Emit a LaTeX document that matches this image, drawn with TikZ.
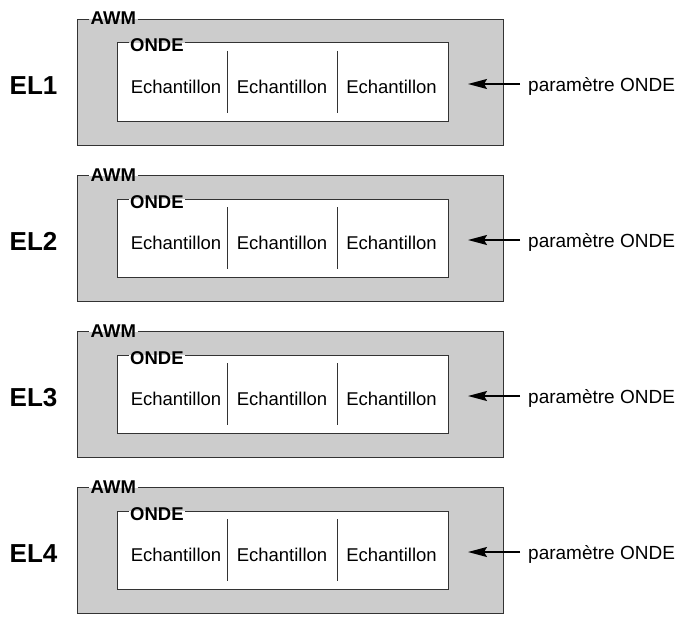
\documentclass[tikz,border=0pt]{standalone}
\usepackage{fontspec}
\setmainfont{Liberation Sans}
\usetikzlibrary{arrows.meta}
\definecolor{boxgray}{HTML}{CCCCCC}
\definecolor{edgecol}{HTML}{333333}
\begin{document}
\begin{tikzpicture}[x=1pt,y=-1pt,
  edgeline/.style={draw=edgecol,line width=1pt},
  divline/.style={draw=edgecol,line width=0.8pt},
  lbl/.style={inner sep=1.5pt,font=\fontsize{18.5}{22}\selectfont\bfseries},
  cell/.style={inner sep=0pt,font=\fontsize{18.5}{22}\selectfont},
  elname/.style={inner sep=0pt,font=\fontsize{26}{30}\selectfont\bfseries},
  param/.style={inner sep=0pt,font=\fontsize{19}{23}\selectfont},
  parrow/.style={line width=1.6pt,-{Stealth[length=19pt,width=10pt,inset=3pt]}}]
\useasboundingbox (0,0) rectangle (687,618);
\foreach \i/\t in {1/19.5,2/175.5,3/331.5,4/487.5}{
  % outer AWM box
  \fill[boxgray] (77,\t) rectangle (503,{\t+126});
  \coordinate (oc\i) at (77,\t);
  \node[lbl,anchor=base west] (awm\i) at (89,{\t+5.5}) {AWM};
  \draw[edgeline] (awm\i.east |- oc\i) -- (503,\t) -- (503,{\t+126}) -- (77,{\t+126}) -- (oc\i) -- (awm\i.west |- oc\i);
  % inner ONDE box
  \fill[white] (117,{\t+23.5}) rectangle (448,{\t+101.5});
  \coordinate (ic\i) at (117,{\t+23.5});
  \node[lbl,anchor=base west] (onde\i) at (128.5,{\t+32.5}) {ONDE};
  \draw[edgeline] (onde\i.east |- ic\i) -- (448,{\t+23.5}) -- (448,{\t+101.5}) -- (117,{\t+101.5}) -- (ic\i) -- (onde\i.west |- ic\i);
  % dividers
  \draw[divline] (227,{\t+31.5}) -- (227,{\t+93.5});
  \draw[divline] (337,{\t+31.5}) -- (337,{\t+93.5});
  % cells
  \node[cell,anchor=base] (ea\i) at (176,{\t+73.5}) {Echantillon};
  \node[cell,anchor=base] (eb\i) at (282,{\t+73.5}) {Echantillon};
  \node[cell,anchor=base] (ec\i) at (391.5,{\t+73.5}) {Echantillon};
  % EL label
  \node[elname,anchor=base] (el\i) at (33.5,{\t+74.5}) {EL\i};
  % parameter arrow
  \node[param,anchor=base west] (par\i) at (528,{\t+72}) {paramètre ONDE};
  \coordinate (tail\i) at (520,{\t+64.5});
  \coordinate (tip\i) at (468,{\t+64.5});
  \draw[parrow] (tail\i) -- (tip\i);
}
\end{tikzpicture}
\end{document}
